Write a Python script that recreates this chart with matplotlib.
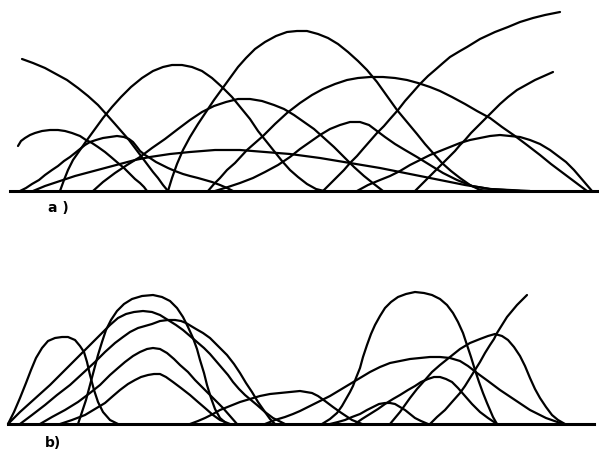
import matplotlib.pyplot as plt

# ---------------------------------------------------------------------
# Curve traces (image pixel coordinates, y grows downwards)
# ---------------------------------------------------------------------
# panel a
a_base_y = 191
a_base_x = [10, 598]

a_A_x = [22, 33, 45, 56, 67, 78, 88, 98, 107, 115, 122, 129, 135, 141, 147, 153, 158, 163, 168]
a_A_y = [59, 63, 68, 74, 80, 88, 96, 105, 115, 124, 132, 140, 148, 156, 164, 172, 178, 185, 191]

a_B_x = [18, 21, 25, 30, 35, 42, 50, 58, 65, 72, 80, 86, 92, 98, 105, 111, 118, 124, 130, 135, 140, 144, 147]
a_B_y = [146, 141, 138, 135, 133, 131, 130, 130, 131, 133, 136, 140, 143, 147, 152, 157, 163, 168, 174, 179, 183, 187, 191]

a_C_x = [20, 26, 32, 39, 45, 52, 58, 64, 70, 75, 80, 85, 90, 96, 103, 110, 117, 124, 129, 133, 137,
         140, 145, 150, 156, 162, 168, 175, 183, 190, 198, 205, 212, 220, 227, 233]
a_C_y = [191, 188, 184, 180, 175, 170, 166, 161, 157, 153, 149, 145, 142, 140, 138, 137, 136, 137, 139, 142, 147,
         151, 155, 158, 162, 165, 168, 171, 174, 176, 178, 180, 182, 185, 188, 191]

a_D1_x = [168, 172, 177, 183, 190, 198, 206, 214, 222, 230, 238, 246, 255, 265, 276, 287, 297,
          307, 318, 328, 338, 348, 358, 367, 377, 387, 397, 407, 417, 425, 433, 442, 451, 460, 470, 480, 490]
a_D1_y = [191, 178, 164, 150, 137, 124, 112, 100, 89, 78, 67, 58, 49, 42, 36, 32, 31,
          31, 34, 38, 44, 52, 61, 70, 82, 96, 110, 122, 134, 144, 153, 163, 171, 178, 185, 190, 191]

a_D2_x = [60, 64, 68, 73, 80, 87, 95, 103, 112, 121, 131, 142, 153, 163, 172, 182, 192, 202, 212, 222,
          232, 241, 250, 258, 266, 274, 282, 290, 298, 307, 316, 324]
a_D2_y = [191, 180, 170, 160, 150, 140, 129, 118, 107, 97, 87, 78, 71, 67, 65, 65, 67, 71, 78, 87,
          97, 108, 119, 131, 141, 151, 161, 170, 177, 184, 189, 191]

a_D3_x = [93, 103, 115, 127, 140, 152, 165, 178, 190, 202, 214, 226, 238, 250, 262, 274, 284, 294,
          304, 314, 324, 334, 344, 354, 364, 374, 383]
a_D3_y = [191, 182, 173, 165, 157, 148, 139, 129, 120, 112, 106, 102, 99, 99, 101, 105, 109, 115,
          122, 129, 138, 147, 157, 167, 176, 184, 191]

a_D4_x = [33, 45, 60, 75, 90, 105, 120, 135, 150, 170, 190, 215, 240, 265, 290, 320, 350, 380, 410,
          440, 465, 490, 530]
a_D4_y = [191, 186, 181, 176, 172, 168, 164, 160, 157, 154, 152, 150, 150, 152, 154, 158, 163, 168, 174,
          180, 185, 189, 191]

a_D5_x = [215, 228, 240, 253, 265, 278, 290, 300, 310, 320, 330, 340, 350, 360, 369, 377, 385, 395,
          405, 417, 430, 443, 457, 472, 490, 520]
a_D5_y = [191, 187, 183, 178, 172, 165, 157, 149, 142, 135, 129, 125, 122, 122, 125, 131, 137, 144,
          150, 157, 165, 173, 180, 186, 189, 191]

a_D6_x = [208, 214, 220, 227, 235, 247, 255, 263, 275, 287, 300, 312, 323, 335, 347, 358, 370, 383,
          395, 407, 418, 430, 440, 452, 465, 477, 490, 502, 515, 527, 540, 551, 563, 575, 587]
a_D6_y = [191, 184, 178, 170, 163, 150, 143, 136, 124, 113, 103, 95, 89, 84, 80, 78, 77, 77,
          78, 80, 83, 87, 91, 97, 104, 111, 118, 127, 136, 145, 155, 164, 173, 182, 191]

a_D7_x = [357, 368, 380, 390, 400, 410, 420, 430, 440, 450, 460, 470, 480, 490, 500, 510, 520, 530,
          540, 550, 558, 566, 574, 580, 586, 592]
a_D7_y = [191, 185, 180, 176, 171, 165, 160, 155, 151, 147, 143, 140, 138, 136, 135, 136, 137, 140,
          144, 150, 156, 162, 170, 177, 184, 191]

a_R1_x = [323, 330, 337, 344, 350, 357, 363, 370, 377, 384, 390, 398, 405, 413, 420, 428, 435, 443,
          450, 460, 467, 480, 495, 508, 520, 533, 545, 560]
a_R1_y = [191, 184, 177, 170, 163, 156, 149, 141, 133, 126, 119, 110, 101, 92, 84, 76, 70, 63,
          57, 51, 47, 39, 32, 27, 22, 18, 15, 12]

a_R2_x = [415, 422, 430, 437, 443, 449, 455, 460, 465, 471, 477, 482, 487, 493, 500, 508, 517, 526,
          535, 544, 553]
a_R2_y = [191, 184, 176, 169, 163, 157, 151, 145, 140, 133, 127, 122, 117, 111, 104, 97, 90, 85,
          80, 76, 72]

# panel b
b_base_y = 424
b_base_x = [8, 594]

b_1_x = [8, 14, 20, 26, 31, 36, 42, 48, 55, 62, 68, 75, 80, 84, 87, 90, 94, 98, 103, 110, 118]
b_1_y = [424, 412, 398, 383, 370, 358, 348, 341, 338, 337, 337, 340, 346, 352, 362, 375, 390, 402, 412, 420, 424]

b_N1_x = [78, 82, 86, 90, 94, 98, 102, 106, 111, 117, 124, 132, 142, 153, 162, 170, 177, 183, 188,
          193, 197, 200, 204, 207, 211, 215, 220, 227]
b_N1_y = [424, 412, 400, 385, 370, 355, 342, 330, 320, 311, 304, 299, 296, 295, 297, 301, 308, 317, 327,
          338, 349, 360, 373, 385, 398, 409, 418, 424]

b_N2_x = [8, 20, 30, 40, 50, 60, 70, 80, 90, 100, 110, 118, 126, 134, 143, 152, 160, 168, 176, 183,
          190, 197, 204, 210, 216, 222, 228, 233, 239, 245, 251, 257, 265, 273, 285]
b_N2_y = [424, 412, 403, 394, 385, 375, 365, 355, 345, 335, 325, 318, 314, 312, 311, 312, 315, 320, 325, 330,
          336, 342, 348, 354, 361, 368, 375, 382, 389, 395, 400, 405, 412, 418, 424]

b_N3_x = [20, 32, 45, 57, 70, 82, 95, 105, 115, 123, 130, 138, 145, 152, 160, 168, 175, 181, 186,
          191, 196, 203, 210, 218, 227, 234, 240, 246, 252, 258, 265, 270, 275]
b_N3_y = [424, 415, 405, 395, 385, 374, 362, 352, 343, 337, 332, 328, 326, 324, 321, 320, 320, 321, 323,
          326, 329, 333, 338, 346, 355, 364, 373, 383, 392, 402, 412, 419, 424]

b_N4_x = [40, 52, 65, 78, 90, 100, 110, 118, 125, 133, 140, 147, 153, 160, 167, 174, 180, 188, 195,
          203, 210, 217, 223, 230, 237]
b_N4_y = [424, 417, 410, 402, 393, 385, 375, 368, 362, 356, 352, 349, 348, 349, 353, 359, 365, 372, 380,
          388, 395, 402, 408, 416, 424]

b_N5_x = [60, 72, 85, 95, 105, 113, 120, 128, 135, 141, 148, 154, 160, 166, 173, 181, 190, 198, 205,
          213, 220, 230]
b_N5_y = [424, 420, 415, 409, 403, 396, 390, 384, 380, 377, 375, 374, 374, 377, 382, 388, 395, 402, 408,
          415, 420, 424]

b_L1_x = [190, 198, 205, 213, 220, 230, 240, 250, 260, 270, 280, 290, 300, 306, 312, 318, 325, 333,
          340, 346, 352, 362]
b_L1_y = [424, 421, 418, 414, 410, 406, 402, 399, 396, 394, 393, 392, 391, 392, 393, 396, 401, 407,
          412, 416, 420, 424]

b_W_x = [265, 275, 285, 293, 300, 310, 320, 330, 340, 350, 360, 370, 380, 390, 400, 410, 420, 430,
         440, 450, 460, 468, 477, 488, 500, 515, 530, 546, 563]
b_W_y = [424, 420, 417, 414, 411, 406, 401, 396, 390, 384, 378, 372, 367, 363, 361, 359, 358, 357,
         357, 358, 361, 366, 373, 381, 390, 400, 410, 418, 424]

b_R_x = [322, 330, 337, 342, 346, 350, 353, 356, 360, 363, 367, 371, 375, 380, 385, 391, 398, 406,
         415, 424, 432, 440, 447, 453, 458, 463, 467, 471, 475, 479, 483, 487, 490, 493, 497]
b_R_y = [424, 419, 413, 406, 399, 392, 386, 378, 368, 357, 345, 334, 325, 316, 308, 302, 297, 294,
         292, 293, 295, 299, 305, 313, 322, 333, 345, 357, 370, 382, 393, 403, 410, 417, 424]

b_S_x = [330, 338, 345, 352, 360, 367, 373, 379, 385, 390, 395, 400, 405, 410, 415, 421, 428]
b_S_y = [424, 422, 420, 417, 414, 410, 407, 404, 403, 403, 404, 407, 410, 414, 418, 421, 424]

b_M_x = [355, 362, 370, 378, 385, 393, 400, 408, 415, 421, 428, 434, 440, 446, 452, 458, 465, 472,
         480, 488, 497]
b_M_y = [424, 419, 414, 409, 404, 399, 395, 390, 386, 382, 379, 377, 377, 379, 382, 388, 396, 404,
         412, 418, 424]

b_D_x = [390, 395, 400, 405, 410, 417, 425, 432, 440, 450, 460, 470, 480, 488, 495, 502, 508, 514,
         520, 525, 530, 535, 540, 546, 552, 558, 565]
b_D_y = [424, 418, 412, 405, 398, 389, 380, 372, 365, 357, 349, 343, 339, 336, 334, 336, 340, 347,
         356, 366, 378, 389, 398, 407, 415, 420, 424]

b_Rise_x = [430, 437, 445, 452, 460, 465, 470, 475, 480, 485, 490, 494, 497, 502, 507, 512, 517, 522, 527]
b_Rise_y = [424, 417, 410, 402, 393, 386, 378, 370, 362, 353, 345, 339, 333, 325, 317, 311, 305, 300, 295]

curves = [
    (a_A_x, a_A_y), (a_B_x, a_B_y), (a_C_x, a_C_y), (a_D1_x, a_D1_y),
    (a_D2_x, a_D2_y), (a_D3_x, a_D3_y), (a_D4_x, a_D4_y), (a_D5_x, a_D5_y),
    (a_D6_x, a_D6_y), (a_D7_x, a_D7_y), (a_R1_x, a_R1_y), (a_R2_x, a_R2_y),
    (b_1_x, b_1_y), (b_N1_x, b_N1_y), (b_N2_x, b_N2_y), (b_N3_x, b_N3_y),
    (b_N4_x, b_N4_y), (b_N5_x, b_N5_y), (b_L1_x, b_L1_y), (b_W_x, b_W_y),
    (b_R_x, b_R_y), (b_S_x, b_S_y), (b_M_x, b_M_y), (b_D_x, b_D_y),
    (b_Rise_x, b_Rise_y),
]

# ---------------------------------------------------------------------
# Drawing
# ---------------------------------------------------------------------
fig = plt.figure(figsize=(5.99, 4.5), dpi=100)
ax = fig.add_axes([0, 0, 1, 1])
ax.set_xlim(0, 599)
ax.set_ylim(450, 0)
ax.axis('off')

for cx, cy in curves:
    ax.plot(cx, cy, color='black', lw=1.6, solid_joinstyle='round', solid_capstyle='round')

ax.plot(a_base_x, [a_base_y, a_base_y], color='black', lw=2.2)
ax.plot(b_base_x, [b_base_y, b_base_y], color='black', lw=2.2)

ax.text(48, 208, 'a )', fontsize=10, fontweight='bold', va='center', ha='left')
ax.text(45, 443, 'b)', fontsize=10, fontweight='bold', va='center', ha='left')

fig.savefig('out.png', dpi=100)
